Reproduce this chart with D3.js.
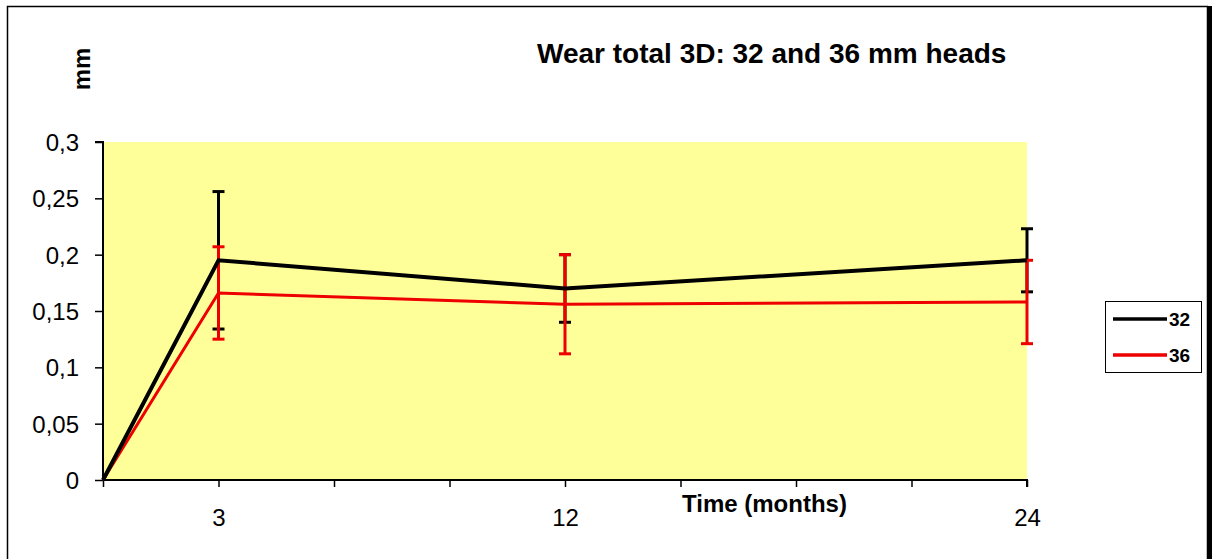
<!DOCTYPE html>
<html>
<head>
<meta charset="utf-8">
<script src="https://cdn.jsdelivr.net/npm/d3@7"></script>
<style>
  body { margin: 0; background: #fff; }
  svg { display: block; font-family: "Liberation Sans", Arial, sans-serif; }
</style>
</head>
<body>
<svg id="chart" width="1212" height="559"></svg>
<script>
// months on the x axis
const months = [0, 3, 12, 24];
const xTickValues = [0, 3, 6, 9, 12, 15, 18, 21, 24];
const xTickLabels = [3, 12, 24];
const yTickValues = [0, 0.05, 0.1, 0.15, 0.2, 0.25, 0.3];

// wear (mm) per head size, with error bar half widths
const wear32 = [0, 0.195, 0.170, 0.195];
const err32 = [0, 0.061, 0.030, 0.028];
const wear36 = [0, 0.166, 0.156, 0.158];
const err36 = [0, 0.041, 0.044, 0.037];

const seriesNames = ['32', '36'];
const seriesColors = ['#000000', '#ee0000'];

const svg = d3.select('#chart');
const W = 1212, H = 559;
const plot = { left: 103, right: 1027, top: 142, bottom: 480 };

// outer frame
svg.append('rect')
  .attr('x', 7.5).attr('y', 6.5)
  .attr('width', 1200).attr('height', 600)
  .attr('fill', 'none').attr('stroke', '#000').attr('stroke-width', 1.5);
svg.append('rect')
  .attr('x', 1207).attr('y', 6).attr('width', 5).attr('height', H)
  .attr('fill', '#000');

const x = d3.scaleLinear().domain([0, 24]).range([plot.left, plot.right]);
const y = d3.scaleLinear().domain([0, 0.3]).range([plot.bottom, plot.top]);

svg.append('rect')
  .attr('x', plot.left).attr('y', plot.top)
  .attr('width', plot.right - plot.left).attr('height', plot.bottom - plot.top)
  .attr('fill', '#ffff99');

// y axis
const yAxis = svg.append('g')
  .attr('transform', `translate(${plot.left},0)`)
  .call(d3.axisLeft(y).tickValues(yTickValues).tickSize(8).tickPadding(16)
    .tickFormat(d => d3.format('.2~f')(d).replace('.', ',')));
yAxis.select('.domain').attr('stroke-width', 2).attr('d', `M-8,${plot.top}H0V${plot.bottom}`);
yAxis.selectAll('.tick line').attr('stroke-width', 1.5);
yAxis.selectAll('.tick text').attr('font-size', 24).attr('fill', '#000').attr('dy', '0.36em');

// x axis
const xAxis = svg.append('g')
  .attr('transform', `translate(0,${plot.bottom})`)
  .call(d3.axisBottom(x).tickValues(xTickValues).tickSize(7).tickPadding(22)
    .tickFormat(d => xTickLabels.includes(d) ? d : ''));
xAxis.select('.domain').attr('stroke-width', 2).attr('d', `M${plot.left},0H${plot.right}V7`);
xAxis.selectAll('.tick line').attr('stroke-width', 1.5);
xAxis.selectAll('.tick text').attr('font-size', 24).attr('fill', '#000');

const series = [
  { name: seriesNames[0], values: wear32, errs: err32, color: seriesColors[0], width: 4 },
  { name: seriesNames[1], values: wear36, errs: err36, color: seriesColors[1], width: 3 }
];

// error bars first, black then red
series.forEach(s => {
  const g = svg.append('g').attr('stroke', s.color).attr('stroke-width', 3);
  months.forEach((m, i) => {
    if (m === 0) return;
    const lo = s.values[i] - s.errs[i], hi = s.values[i] + s.errs[i];
    g.append('line').attr('x1', x(m)).attr('x2', x(m)).attr('y1', y(lo)).attr('y2', y(hi));
    g.append('line').attr('x1', x(m) - 6).attr('x2', x(m) + 6).attr('y1', y(lo)).attr('y2', y(lo));
    g.append('line').attr('x1', x(m) - 6).attr('x2', x(m) + 6).attr('y1', y(hi)).attr('y2', y(hi));
  });
});

const line = d3.line().x(d => x(d[0])).y(d => y(d[1]));
[series[1], series[0]].forEach(s => {
  svg.append('path')
    .datum(months.map((m, i) => [m, s.values[i]]))
    .attr('d', line)
    .attr('fill', 'none')
    .attr('stroke', s.color)
    .attr('stroke-width', s.width)
    .attr('stroke-linejoin', 'miter');
});

// titles
svg.append('text')
  .attr('x', 537).attr('y', 63)
  .attr('font-size', 28).attr('font-weight', 'bold')
  .text('Wear total 3D: 32 and 36 mm heads');

svg.append('text')
  .attr('transform', 'translate(90,69) rotate(-90)')
  .attr('text-anchor', 'middle')
  .attr('font-size', 24).attr('font-weight', 'bold')
  .text('mm');

svg.append('text')
  .attr('x', 682).attr('y', 512)
  .attr('font-size', 24).attr('font-weight', 'bold')
  .text('Time (months)');

// legend
const legend = svg.append('g');
legend.append('rect')
  .attr('x', 1105.5).attr('y', 301.5).attr('width', 96).attr('height', 71)
  .attr('fill', '#fff').attr('stroke', '#000').attr('stroke-width', 1);
series.forEach((s, i) => {
  const ly = 319 + i * 36;
  legend.append('line')
    .attr('x1', 1113).attr('x2', 1167).attr('y1', ly).attr('y2', ly)
    .attr('stroke', s.color).attr('stroke-width', 3.5);
  legend.append('text')
    .attr('x', 1169).attr('y', ly + 7)
    .attr('font-size', 19).attr('font-weight', 'bold')
    .text(s.name);
});
</script>
</body>
</html>
